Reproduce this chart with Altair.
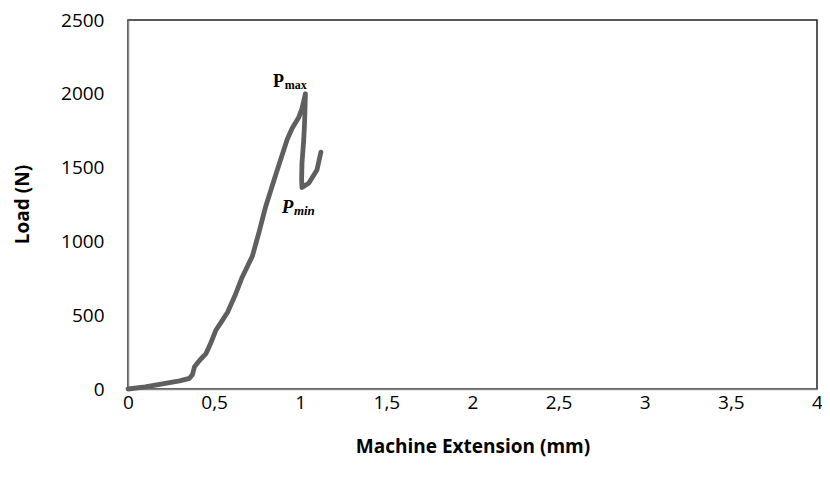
import altair as alt
import pandas as pd

# Load-extension curve
ext_mm = [0.0, 0.10, 0.20, 0.30, 0.357, 0.375, 0.386, 0.42, 0.453, 0.48, 0.511,
          0.545, 0.578, 0.62, 0.66, 0.722, 0.76, 0.799, 0.86, 0.924, 0.953,
          0.991, 1.010, 1.030, 1.025, 1.020, 1.010, 1.008, 1.010, 1.049, 1.097, 1.120]
load_n = [0, 15, 35, 55, 72, 100, 151, 200, 240, 310, 400,
          460, 520, 630, 750, 900, 1060, 1235, 1460, 1690, 1766,
          1840, 1900, 2000, 1800, 1687, 1529, 1420, 1365, 1394, 1484, 1605]

# annotation labels: main letter and subscript (Pmax upright, Pmin italic)
pmax_main = {"t": ["P"], "x": [0.842], "y": [2045]}
pmax_sub = {"t": ["max"], "x": [0.910], "y": [2035]}
pmin_main = {"t": ["P"], "x": [0.893], "y": [1190]}
pmin_sub = {"t": ["min"], "x": [0.963], "y": [1180]}

x_ticks = [0, 0.5, 1, 1.5, 2, 2.5, 3, 3.5, 4]
y_ticks = [0, 500, 1000, 1500, 2000, 2500]

curve = pd.DataFrame({"ext": ext_mm, "load": load_n, "order": range(len(ext_mm))})

FONT = "Open Sans"
W = 689

xs = alt.Scale(domain=[0, 4], nice=False, zero=True)
ys = alt.Scale(domain=[0, 2500], nice=False)

line = alt.Chart(curve).mark_line(
    color="#5f5f5f", strokeWidth=4.8, strokeJoin="round", strokeCap="round"
).encode(
    x=alt.X("ext:Q", scale=xs, axis=alt.Axis(
        values=x_ticks, title="Machine Extension (mm)", grid=False, ticks=False,
        labelExpr="replace(toString(datum.value), '.', ',')",
        labelFont=FONT, labelFontSize=19, labelColor="#000", labelPadding=4,
        labelFlush=False,
        titleFont=FONT, titleFontSize=19, titleFontWeight="bold", titleColor="#000",
        titleX=W / 2, titleY=57, titleBaseline="middle",
        domainColor="#888", domainWidth=1.5)),
    y=alt.Y("load:Q", scale=ys, axis=alt.Axis(
        values=y_ticks, title="Load (N)", grid=False, ticks=False,
        labelExpr="toString(datum.value)",
        labelFont=FONT, labelFontSize=19, labelColor="#000", labelPadding=24,
        labelFlush=False,
        titleFont=FONT, titleFontSize=19, titleFontWeight="bold", titleColor="#000",
        titleX=-106, titleY=184, titleAngle=-90, titleBaseline="middle", titleAlign="center",
        domainColor="#888", domainWidth=1.5)),
    order="order:Q",
)


def label(d, size, style):
    return alt.Chart(pd.DataFrame(d)).mark_text(
        font="Liberation Serif", fontSize=size, fontWeight="bold", fontStyle=style,
        align="left", baseline="alphabetic", color="#000"
    ).encode(x=alt.X("x:Q", scale=xs), y=alt.Y("y:Q", scale=ys), text="t:N")


chart = alt.layer(
    line,
    label(pmax_main, 18, "normal"), label(pmax_sub, 12, "normal"),
    label(pmin_main, 19, "italic"), label(pmin_sub, 13, "italic"),
).properties(
    width=W, height=369,
    autosize=alt.AutoSizeParams(type="none"),
    padding={"left": 120, "top": 12, "right": 5, "bottom": 80},
    background="white",
).configure_view(stroke="#222", strokeWidth=1.5)

chart.save("out.html", embed_options={"renderer": "svg", "actions": False})
